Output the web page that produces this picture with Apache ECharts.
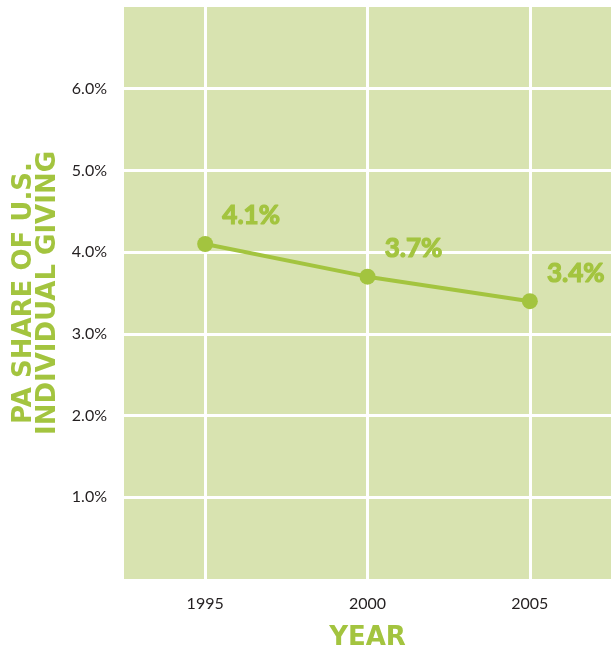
<!DOCTYPE html>
<html>
<head>
<meta charset="utf-8">
<script src="https://cdn.jsdelivr.net/npm/echarts@6/dist/echarts.min.js"></script>
<style>
  html, body { margin: 0; padding: 0; background: #fff; }
  #chart { width: 611px; height: 648px; }
</style>
</head>
<body>
<div id="chart"></div>
<script>
// data
var years = ['1995', '2000', '2005'];
var paShare = [4.1, 3.7, 3.4];
var yTicks = [1, 2, 3, 4, 5, 6];

var green = '#a3c43f';
var font = 'Lato, "Open Sans", sans-serif';
var titleFont = '"DejaVu Sans", sans-serif';

var chart = echarts.init(document.getElementById('chart'));
chart.setOption({
  animation: false,
  grid: {
    left: 124,
    right: 0,
    top: 7,
    bottom: 69,
    outerBoundsMode: 'none',
    show: true,
    backgroundColor: '#d8e3b0',
    borderWidth: 0
  },
  xAxis: {
    type: 'category',
    data: years,
    boundaryGap: true,
    name: 'YEAR',
    nameLocation: 'middle',
    nameGap: 46,
    nameTextStyle: { color: green, fontSize: 26, fontWeight: 'bold', fontFamily: titleFont },
    axisLine: { show: false },
    axisTick: {
      show: true,
      inside: true,
      alignWithLabel: true,
      length: 572,
      lineStyle: { color: '#fff', width: 3 }
    },
    axisLabel: { color: '#231f20', fontSize: 16, fontFamily: font, margin: 17 },
    splitLine: { show: false }
  },
  yAxis: {
    type: 'value',
    min: 0,
    max: 7,
    interval: 1,
    name: 'PA SHARE OF U.S.\nINDIVIDUAL GIVING',
    nameLocation: 'middle',
    nameRotate: 90,
    nameGap: 64,
    nameMoveOverlap: false,
    nameTextStyle: { color: green, fontSize: 26, fontWeight: 'bold', fontFamily: titleFont, lineHeight: 24 },
    axisLine: { show: false },
    axisTick: { show: false },
    axisLabel: {
      color: '#231f20',
      fontSize: 16,
      fontFamily: font,
      margin: 17,
      formatter: function (v) {
        return yTicks.indexOf(v) >= 0 ? v.toFixed(1) + '%' : '';
      }
    },
    splitLine: {
      show: true,
      showMinLine: false,
      showMaxLine: false,
      lineStyle: { color: '#fff', width: 3 }
    }
  },
  series: [{
    type: 'line',
    data: paShare,
    symbol: 'circle',
    symbolSize: 16,
    lineStyle: { color: green, width: 4 },
    itemStyle: { color: green },
    label: {
      show: true,
      position: 'inside',
      offset: [46, -28],
      color: green,
      fontSize: 26,
      fontWeight: 'bold',
      fontFamily: font,
      textBorderColor: green,
      textBorderWidth: 1.2,
      formatter: function (p) { return p.value.toFixed(1) + '%'; }
    }
  }]
});
</script>
</body>
</html>
